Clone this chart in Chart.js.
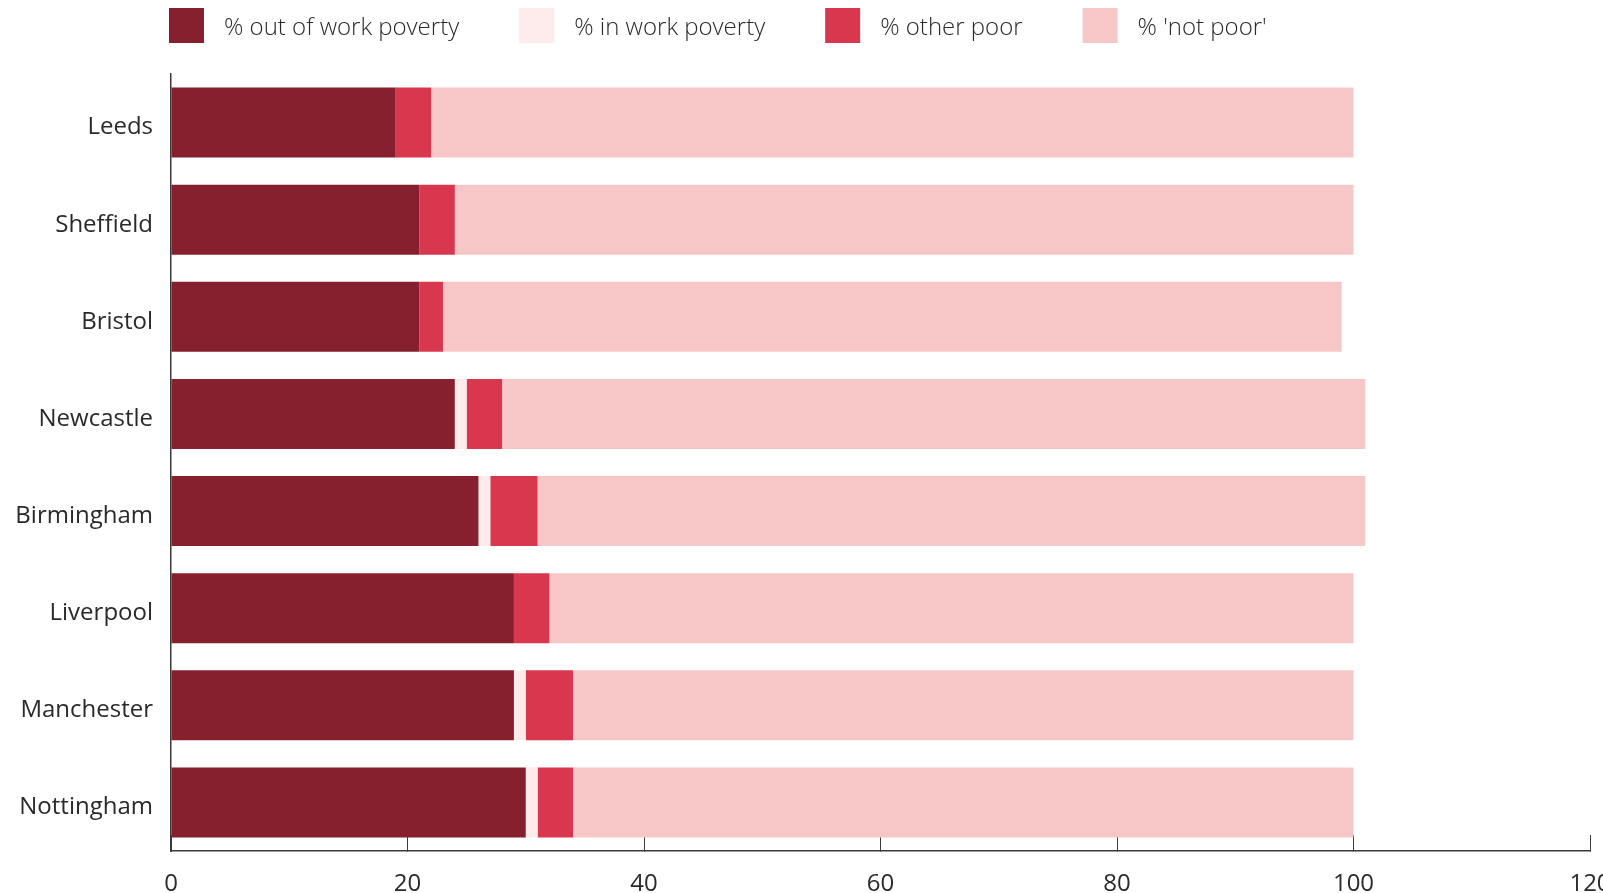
<!DOCTYPE html>
<html>
<head>
<meta charset="utf-8">
<title>Poverty by city</title>
<script src="https://cdn.jsdelivr.net/npm/chart.js@4"></script>
<style>
    html, body {
        margin: 0;
        padding: 0;
        background: #ffffff;
    }

    .chart-box {
        width: 1603px;
        height: 893px;
        position: relative;
    }
</style>
</head>
<body>
<div class="chart-box"><canvas id="povertyChart"></canvas></div>

<script>
const cities = ['Leeds', 'Sheffield', 'Bristol', 'Newcastle', 'Birmingham', 'Liverpool', 'Manchester', 'Nottingham'];

const outOfWorkPoverty = [19, 21, 21, 24, 26, 29, 29, 30];
const inWorkPoverty = [0, 0, 0, 1, 1, 0, 1, 1];
const otherPoor = [3, 3, 2, 3, 4, 3, 4, 3];
const notPoor = [78, 76, 76, 73, 70, 68, 66, 66];

const seriesLabels = ['% out of work poverty', '% in work poverty', '% other poor', "% 'not poor'"];
const seriesColours = ['#87202E', '#FDEBEB', '#D8374E', '#F7C7C8'];

const xTicks = [0, 20, 40, 60, 80, 100, 120];

const FONT = '"Open Sans", "Noto Sans", sans-serif';
const TEXT_COLOUR = '#2a2a2a';
const AXIS_COLOUR = '#3a3a3a';

// legend row across the top, left edge lined up with the plot
const topLegend = {
    id: 'topLegend',
    afterDraw(chart) {
        const ctx = chart.ctx;
        const box = 35;
        const gap = 20;
        const spacing = 60;
        let x = chart.chartArea.left - 2;
        const y = 8;

        ctx.save();
        ctx.font = '300 24px ' + FONT;
        ctx.textBaseline = 'middle';
        ctx.textAlign = 'left';
        chart.data.datasets.forEach(ds => {
            ctx.fillStyle = ds.backgroundColor;
            ctx.fillRect(x, y, box, box);
            ctx.fillStyle = TEXT_COLOUR;
            const textX = x + box + gap;
            ctx.fillText(ds.label, textX, y + box / 2 + 3);
            x = textX + ctx.measureText(ds.label).width + spacing;
        });
        ctx.restore();
    }
};

const series = [outOfWorkPoverty, inWorkPoverty, otherPoor, notPoor];

const povertyCtx = document.getElementById('povertyChart').getContext('2d');
new Chart(povertyCtx, {
    type: 'bar',
    data: {
        labels: cities,
        datasets: series.map((values, i) => ({
            label: seriesLabels[i],
            data: values,
            backgroundColor: seriesColours[i],
            borderWidth: 0,
            barPercentage: 0.72,
            categoryPercentage: 1
        }))
    },
    options: {
        indexAxis: 'y',
        responsive: true,
        maintainAspectRatio: false,
        animation: false,
        layout: {
            padding: { top: 74, right: 13, left: 0, bottom: 0 }
        },
        plugins: {
            legend: { display: false },
            tooltip: { enabled: false }
        },
        scales: {
            x: {
                stacked: true,
                min: 0,
                max: 120,
                afterBuildTicks: scale => {
                    scale.ticks = xTicks.map(v => ({ value: v }));
                },
                afterFit: scale => {
                    scale.height = 42;
                    scale.paddingRight = 0;
                },
                grid: {
                    drawOnChartArea: false,
                    drawTicks: true,
                    tickLength: -16,
                    color: AXIS_COLOUR,
                    lineWidth: 1
                },
                border: { display: true, color: AXIS_COLOUR, width: 1.5 },
                ticks: {
                    padding: 35,
                    maxRotation: 0,
                    autoSkip: false,
                    color: TEXT_COLOUR,
                    font: { family: FONT, size: 24 }
                }
            },
            y: {
                stacked: true,
                afterFit: scale => {
                    scale.width = 171;
                },
                grid: { display: false },
                border: { display: true, color: AXIS_COLOUR, width: 1.5 },
                ticks: {
                    padding: 10,
                    labelOffset: 5,
                    color: TEXT_COLOUR,
                    font: { family: FONT, size: 24 }
                }
            }
        }
    },
    plugins: [topLegend]
});
</script>
</body>
</html>
